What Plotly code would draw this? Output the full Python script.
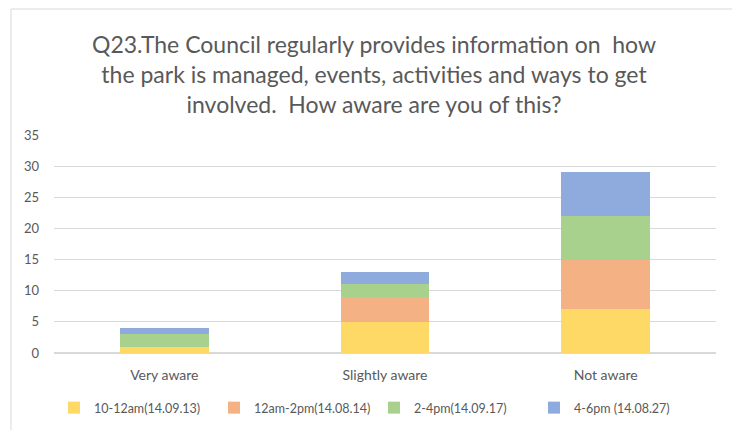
import plotly.graph_objects as go

categories = ["Very aware", "Slightly aware", "Not aware"]
series_names = ["10-12am(14.09.13)", "12am-2pm(14.08.14)", "2-4pm(14.09.17)", "4-6pm (14.08.27)"]
s1 = [1, 5, 7]
s2 = [0, 4, 8]
s3 = [2, 2, 7]
s4 = [1, 2, 7]
colors = ["#FFD966", "#F4B183", "#A9D18E", "#8FAADC"]
y_ticks = [0, 5, 10, 15, 20, 25, 30, 35]

title_text = ("Q23.The Council regularly provides information on  how<br>"
              "the park is managed, events, activities and ways to get<br>"
              "involved.  How aware are you of this?")

# page has an 8px body margin; figure coordinates = page - 8
W, H = 732, 422
L, R, T, B = 46, 24, 127, 77
PW = W - L - R
PH = H - T - B

fig = go.Figure()
for name, vals, c in zip(series_names, [s1, s2, s3, s4], colors):
    fig.add_trace(go.Bar(x=categories, y=vals, name=name, marker_color=c,
                         marker_line_width=0))

fig.update_layout(
    width=W, height=H,
    barmode="stack", bargap=0.597,
    paper_bgcolor="white", plot_bgcolor="white",
    margin=dict(l=L, r=R, t=T, b=B, autoexpand=False),
    font=dict(family="Lato, Open Sans, sans-serif", color="#595959", size=13),
    showlegend=True,
    legend=dict(orientation="h", xref="container", x=0.5, xanchor="center",
                y=-(400 - (H - B)) / PH, yanchor="middle",
                font=dict(size=12.5, color="#595959"), traceorder="normal",
                itemwidth=30, entrywidth=115, entrywidthmode="pixels"),
    annotations=[dict(text=title_text, x=(366 - L) / PW, xref="paper", y=1 + (T - 20) / PH, yref="paper",
                      yanchor="top", showarrow=False, align="center",
                      font=dict(size=23, color="#595959", family="Lato, Open Sans, sans-serif"))],
    shapes=[dict(type="rect", xref="paper", yref="paper",
                 x0=-(L - 3) / PW, x1=1 + (728 - (W - R)) / PW, y0=-(H + 10 - (H - B)) / PH, y1=1 + (T - 1) / PH,
                 line=dict(color="#D9D9D9", width=1), fillcolor="rgba(0,0,0,0)", layer="below")],
)
fig.update_xaxes(showgrid=False, showline=False, ticks="", automargin=False,
                 ticklabelstandoff=12, tickfont=dict(size=14, color="#595959"))
fig.update_yaxes(range=[0, 35], tickvals=y_ticks, showgrid=True, gridcolor="#D9D9D9",
                 gridwidth=1, zeroline=True, zerolinecolor="#D9D9D9", showline=False,
                 ticks="", automargin=False, ticklabelstandoff=14,
                 tickfont=dict(size=13, color="#595959"))

fig.write_html("out.html")
